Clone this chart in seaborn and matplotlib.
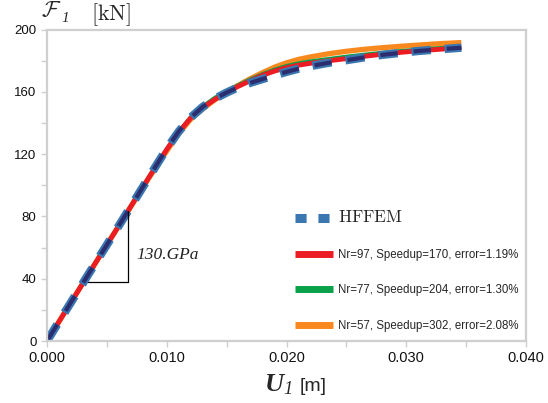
import numpy as np
import pandas as pd
import matplotlib
matplotlib.use("Agg")
import matplotlib.pyplot as plt
import seaborn as sns
from matplotlib.lines import Line2D
from matplotlib.ticker import MultipleLocator, FixedLocator

sns.set_theme(style="white")
plt.rcParams['font.family'] = ['Liberation Sans', 'DejaVu Sans']
plt.rcParams['lines.scale_dashes'] = False
plt.rcParams['mathtext.fontset'] = 'custom'
plt.rcParams['mathtext.it'] = 'Liberation Serif:italic:bold'
plt.rcParams['mathtext.rm'] = 'Liberation Serif:italic'

# ---- data ----
u = [0.0, 0.002, 0.004, 0.006, 0.008, 0.009, 0.010, 0.011, 0.012, 0.013,
     0.014, 0.015, 0.016, 0.017, 0.018, 0.019, 0.020, 0.021, 0.022, 0.0235,
     0.025, 0.0265, 0.028, 0.0295, 0.031, 0.0328, 0.0346]
hffem = [0.0, 24.8, 49.5, 74.0, 98.8, 111.2, 123.5, 134.5, 143.5, 150.3,
         155.5, 159.5, 163.0, 165.8, 168.2, 170.5, 172.8, 174.8, 176.5, 178.6,
         180.3, 182.1, 183.7, 185.0, 186.2, 187.3, 188.3]
red_nr97 = [0.0, 24.8, 49.5, 74.0, 98.8, 111.0, 123.0, 134.0, 143.2, 149.8,
            155.0, 159.8, 163.6, 167.2, 170.6, 173.3, 175.5, 177.1, 178.3, 179.9,
            181.3, 182.8, 184.1, 185.3, 186.3, 187.3, 188.2]
green_nr77 = [0.0, 24.8, 49.5, 74.0, 98.8, 111.0, 123.0, 134.2, 143.6, 150.5,
              156.0, 160.5, 164.3, 168.0, 171.3, 174.2, 176.5, 178.2, 179.5, 181.0,
              182.5, 183.8, 185.0, 186.1, 187.0, 188.0, 188.8]
orange_nr57 = [0.0, 24.8, 49.5, 74.0, 98.5, 110.5, 122.0, 133.2, 142.4, 149.0,
               154.8, 159.8, 164.3, 168.5, 172.3, 175.8, 178.6, 180.8, 182.4, 184.4,
               186.0, 187.3, 188.3, 189.2, 190.0, 190.9, 191.6]

labels = ["HFFEM",
          "Nr=97, Speedup=170, error=1.19%",
          "Nr=77, Speedup=204, error=1.30%",
          "Nr=57, Speedup=302, error=2.08%"]

x_ticks = [0.000, 0.010, 0.020, 0.030, 0.040]
x_ticklabels = ["0.000", "0.010", "0.020", "0.030", "0.040"]
y_ticks = [0, 40, 80, 120, 160, 200]

triangle_u = [0.0034, 0.0068, 0.0068]
triangle_f = [38.0, 38.0, 83.6]

c_blue = "#3a77b0"
c_navy = "#2b2d6e"
c_red = "#ec1c24"
c_green = "#0aa14a"
c_orange = "#f7891f"
c_frame = "#cfcfcf"

fig = plt.figure(figsize=(5.48, 4.03), dpi=100)
ax = fig.add_axes([47/548, 1-341/403, (526-47)/548, (341-29.5)/403])

df = pd.DataFrame({"u": u, "hffem": hffem, "r": red_nr97, "g": green_nr77, "o": orange_nr57})

sns.lineplot(data=df, x="u", y="o", ax=ax, color=c_orange, lw=3.8, sort=False)
sns.lineplot(data=df, x="u", y="g", ax=ax, color=c_green, lw=3.0, sort=False)
sns.lineplot(data=df, x="u", y="r", ax=ax, color=c_red, lw=3.5, sort=False)
sns.lineplot(data=df, x="u", y="hffem", ax=ax, color=c_blue, lw=6.0,
             linestyle=(0, (14, 10)), sort=False)
sns.lineplot(data=df, x="u", y="hffem", ax=ax, color=c_navy, lw=3.0,
             linestyle=(22.5, (12.5, 11.5)), sort=False)
for ln in ax.get_lines():
    ln.set_dash_capstyle('butt')
    ln.set_solid_capstyle('butt')
    ln.set_solid_joinstyle('round')

# slope triangle
ax.plot(triangle_u, triangle_f, color="black", lw=0.9)
ax.text(0.0075, 55, "130.GPa", fontsize=12.5, family="Liberation Serif",
        style="italic", va="center", ha="left", color="#222222")

ax.set_xlim(0, 0.040)
ax.set_ylim(0, 200)
ax.xaxis.set_major_locator(FixedLocator(x_ticks))
ax.set_xticklabels(x_ticklabels)
ax.xaxis.set_minor_locator(MultipleLocator(0.005))
ax.yaxis.set_major_locator(FixedLocator(y_ticks))
ax.yaxis.set_minor_locator(MultipleLocator(20))
ax.tick_params(axis="both", which="both", direction="out", length=4.5,
               width=1.0, color=c_frame, bottom=True, left=True)
ax.tick_params(axis="x", which="major", labelsize=10.5, pad=3, labelcolor="#111111")
ax.tick_params(axis="y", which="major", labelsize=9.5, pad=3, labelcolor="#111111")
for s in ax.spines.values():
    s.set_visible(True)
    s.set_color(c_frame)
    s.set_linewidth(1.6)
ax.set_xlabel("")
ax.set_ylabel("")

# axis labels
fig.text(41/548, 1-17/403, r"$\mathcal{F}$", fontsize=16,
         math_fontfamily="cm", va="baseline", ha="left")
fig.text(61/548, 1-22/403, "1", fontsize=11, family="Liberation Serif",
         style="italic", va="baseline", ha="left")
fig.text(91/548, 1-20/403, r"$\mathrm{[kN]}$", fontsize=16,
         math_fontfamily="cm", va="baseline", ha="left")
fig.text(264/548, 1-391/403, r"$U_{1}$", fontsize=19,
         va="baseline", ha="left")
fig.text(300/548, 1-391/403, "[m]", fontsize=14, family="Liberation Sans",
         va="baseline", ha="left")

# legend
handles = [
    Line2D([0], [0], color=c_blue, lw=6.5, linestyle=(0, (8, 8.5)), dash_capstyle='butt'),
    Line2D([0], [0], color=c_red, lw=5, solid_capstyle='butt'),
    Line2D([0], [0], color=c_green, lw=5, solid_capstyle='butt'),
    Line2D([0], [0], color=c_orange, lw=5, solid_capstyle='butt'),
]
leg = ax.legend(handles, labels, loc="upper left",
                bbox_to_anchor=(295/548, 1-209/403), bbox_transform=fig.transFigure,
                frameon=False, fontsize=8.3, handlelength=3.3, handletextpad=0.4,
                labelspacing=2.05, borderpad=0, borderaxespad=0)
t0 = leg.get_texts()[0]
t0.set_text(r"$\mathrm{HFFEM}$")
t0.set_math_fontfamily("cm")
t0.set_fontsize(12.5)

fig.savefig("out.png", dpi=100)
